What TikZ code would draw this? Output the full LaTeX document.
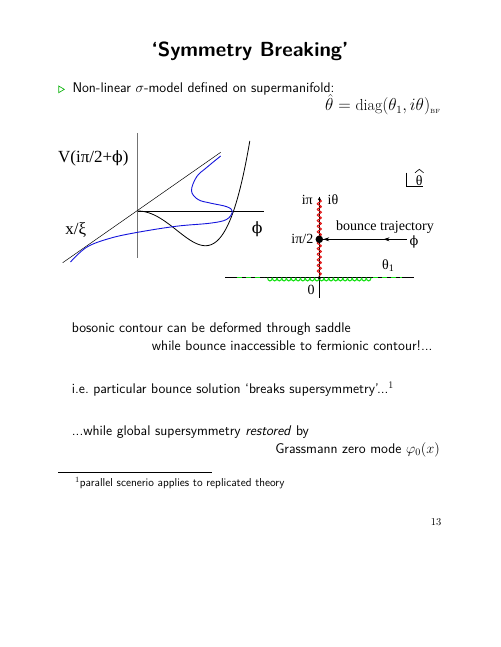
\documentclass[tikz,border=0pt]{standalone}
\usepackage{fontspec}
\usepackage{amsmath}
\newfontfamily\tms{Liberation Serif}
\newfontfamily\dvs{DejaVu Serif}
\usetikzlibrary{decorations.pathmorphing,arrows.meta}
\definecolor{brgreen}{RGB}{20,225,20}
\definecolor{crvblue}{RGB}{20,20,220}
\definecolor{wavred}{RGB}{225,20,20}
\newcommand{\vphi}{{\dvs\fontsize{0.92em}{1em}\selectfont ϕ}}
\begin{document}
\begin{tikzpicture}[x=1pt,y=-1pt,
  txt/.style={inner sep=0pt, font=\sffamily\fontsize{14}{17}\selectfont},
  foot/.style={inner sep=0pt, font=\sffamily\fontsize{11.5}{13}\selectfont},
  ttl/.style={inner sep=0pt, font=\sffamily\bfseries\fontsize{20.4}{24}\selectfont},
  mth/.style={inner sep=0pt, font=\fontsize{16}{19}\selectfont},
  lbl/.style={inner sep=0pt, font=\tms\fontsize{14}{16}\selectfont},
  biglbl/.style={inner sep=0pt, font=\tms\fontsize{17}{20}\selectfont},
  thinline/.style={line width=0.6pt},
  dotsmall/.style={circle, fill=black, inner sep=0pt, minimum size=3.5pt},
  dotbig/.style={circle, fill=black, inner sep=0pt, minimum size=7.5pt},
  arrowtip/.style={-{Stealth[length=6pt,width=4pt]}, thinline}
]
\useasboundingbox (0,0) rectangle (500,647);

% ---------- title and header text ----------
\node[ttl, anchor=base] (title) at (250,56.7) {‘Symmetry Breaking’};
\draw[brgreen!80!black, line width=0.7pt] (58.7,86) -- (58.7,92.7) -- (64.3,89.35) -- cycle;
\node[txt, anchor=base west] (l1) at (72.3,92.3) {Non-linear $\sigma$-model defined on supermanifold:};
\node[mth, anchor=base east] (l2) at (440.7,111) {$\smash{\hat\theta}=\mathrm{diag}\smash{(}\theta_1,i\theta\smash{)}_{\text{\fontsize{6}{7}\selectfont BF}}$};

% ---------- left diagram ----------
\coordinate (o) at (137.7,211);
\draw[black!55, line width=0.7pt] (137.7,133) -- (137.7,258);
\draw[thinline] (o) -- (264,211);
\draw[line width=0.5pt] (62.7,262.7) -- (220.7,152.3);
\draw[line width=0.8pt, domain=0:1.122, samples=80, smooth]
  plot ({137.7+100*\x},{211+151.2*\x*\x-164.7*\x*\x*\x*\x});
\draw[crvblue, line width=0.9pt] plot[smooth, tension=0.6] coordinates {
  (70.5,262) (86.7,247.2) (110,238.3) (137.7,232.3) (176.7,226.2) (210,223.2)
  (226.5,219.5) (232.3,211.5) (226.7,206.7) (210,203) (198,199.5)
  (191.5,190.7) (196.7,176.7) (206.7,167.5) (220.7,156)};
\node[biglbl] (vlab) at (93.3,158.3) {V(iπ/2+\vphi)};
\node[biglbl] (xlab) at (75.8,230) {x/ξ};
\node[biglbl] (phil) at (257.3,229.3) {\vphi};

% ---------- right diagram ----------
\coordinate (z) at (319.3,277.7);
\coordinate (ipi) at (319.3,199.3);
\draw[thinline] (225,277.7) -- (414,277.7);
\draw[thinline] (319.3,196.7) -- (319.3,297.7);
% green contour
\draw[brgreen, line width=1.1pt, dash pattern=on 5pt off 4pt] (236.5,277.7) -- (263.5,277.7);
\draw[brgreen, line width=1.1pt, dash pattern=on 5pt off 4pt] (373,277.7) -- (402,277.7);
\foreach \k in {0,...,21}{
  \draw[brgreen, line width=1.1pt] ({267.6+4.7*\k},277.7) arc[start angle=180, end angle=0, x radius=2.35, y radius=3.2];
}
% red contour
\draw[wavred, line width=1.1pt, decorate,
  decoration={snake, segment length=5.6pt, amplitude=2pt}] (ipi) -- (z);
\node[dotsmall] (d0) at (z) {};
\node[dotsmall, minimum size=3pt] (dpi) at (ipi) {};
\node[dotbig] (dhalf) at (319.3,239.3) {};
% bounce trajectory arrow
\coordinate (bstart) at (406.7,239.3);
\coordinate (bmid) at (383.5,239.3);
\draw[thinline] (bstart) -- (dhalf);
\draw[arrowtip] (bstart) -- (bmid);
\draw[arrowtip] (bmid) -- (dhalf);
% labels
\node[lbl, anchor=east] (lipi) at (313,200) {iπ};
\node[lbl, anchor=west] (lith) at (327.5,200) {iθ};
\node[lbl, anchor=east] (lipi2) at (313.5,239.3) {iπ/2};
\node[lbl] (l0) at (311,290) {0};
\node[lbl, anchor=west] (lbt) at (336,227.3) {bounce trajectory};
\node[lbl] (lphi) at (414,241.7) {\vphi};
\node[lbl] (lth1) at (388.3,265.7) {θ$_{\text{\tms\fontsize{10}{11}\selectfont 1}}$};
\node[lbl] (lhat) at (419.3,181) {θ};
\draw[line width=0.6pt] (415,172.8) -- (419.3,169.3) -- (423.6,172.8);
\draw[line width=0.5pt] (406.7,172.7) -- (406.7,186.7) -- (422.7,186.7);

% ---------- body text ----------
\node[txt, anchor=base west] (t1) at (71.7,332.7) {bosonic contour can be deformed through saddle};
\node[txt, anchor=base west] (t2) at (151.7,350) {while bounce inaccessible to fermionic contour!...};
\node[txt, anchor=base west] (t3) at (71.7,393.3) {i.e.\ particular bounce solution ‘breaks supersymmetry’...$^1$};
\node[txt, anchor=base west] (t4) at (71.7,435) {...while global supersymmetry \textit{restored} by};
\node[txt, anchor=base east] (t5) at (440,453.3) {Grassmann zero mode $\varphi_0(x)$};
\draw[line width=0.5pt] (58.3,472.7) -- (211.7,472.7);
\node[foot, anchor=base west] (fn) at (75,486.7) {$^1$parallel scenerio applies to replicated theory};
\node[inner sep=0pt, anchor=base, font=\rmfamily\fontsize{10.5}{12}\selectfont] (pg) at (436,525) {13};
\end{tikzpicture}
\end{document}
